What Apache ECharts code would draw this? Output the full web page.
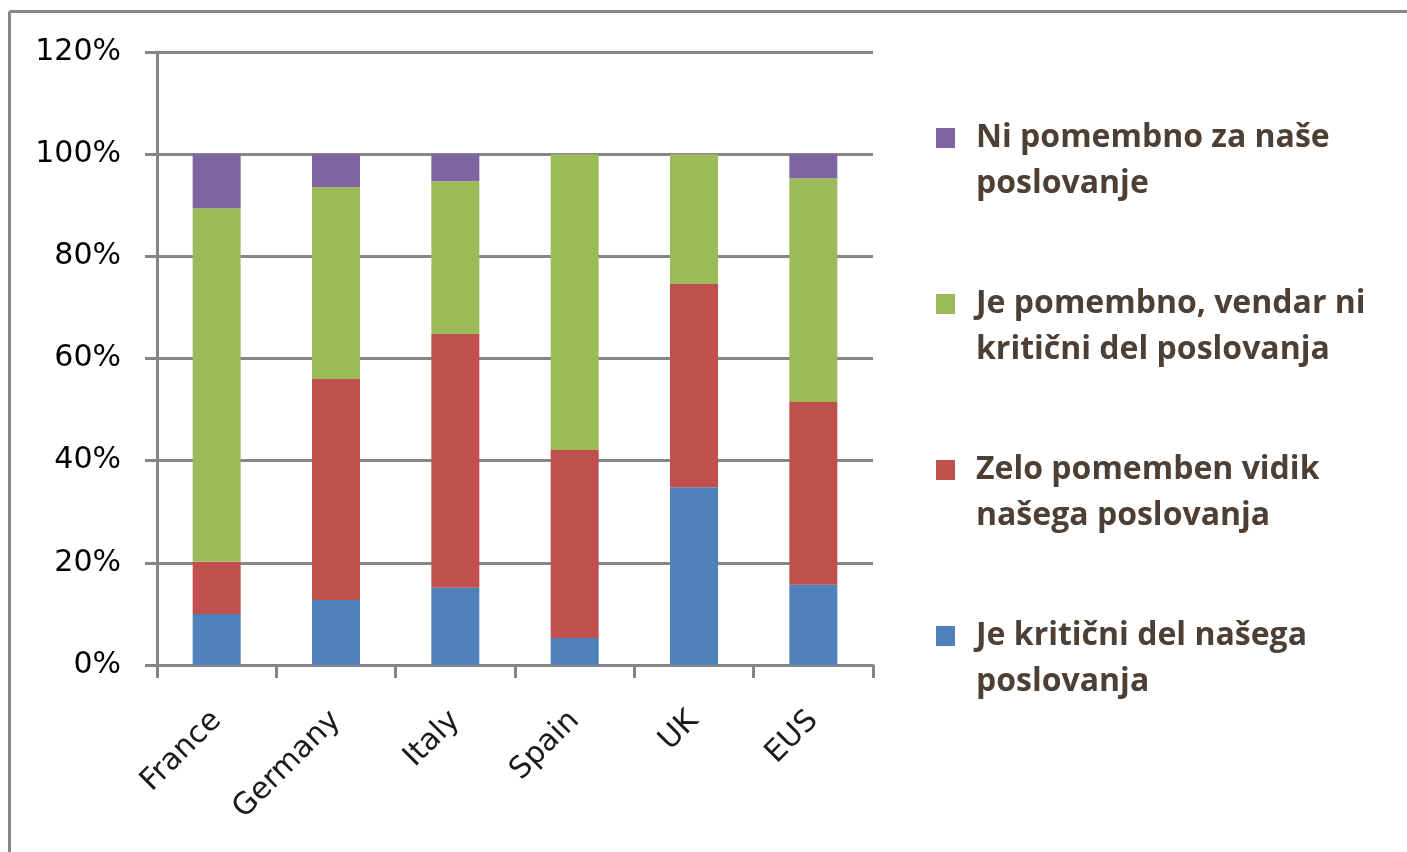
<!DOCTYPE html>
<html>
<head>
<meta charset="utf-8">
<script src="https://cdn.jsdelivr.net/npm/echarts@6/dist/echarts.min.js"></script>
<style>
  html, body { margin: 0; padding: 0; background: #fff; }
  #main { width: 1407px; height: 852px; }
</style>
</head>
<body>
<div id="main"></div>
<script>
// data
const countries = ['France', 'Germany', 'Italy', 'Spain', 'UK', 'EUS'];
const seriesNames = [
  'Je kritični del našega\nposlovanja',
  'Zelo pomemben vidik\nnašega poslovanja',
  'Je pomembno, vendar ni\nkritični del poslovanja',
  'Ni pomembno za naše\nposlovanje'
];
const critical    = [10.0, 12.7, 15.1, 5.3, 34.8, 15.7];
const veryImport  = [10.2, 43.3, 49.7, 36.8, 39.8, 35.8];
const important   = [69.2, 37.5, 29.9, 57.9, 25.4, 43.8];
const notImport   = [10.6, 6.5, 5.3, 0, 0, 4.7];
const colors = ['#4f81bd', '#c0504d', '#9bbb59', '#8064a2'];

const gray = '#868686';
const lineH = 46;

var myChart = echarts.init(document.getElementById('main'));
const values = [critical, veryImport, important, notImport];
var option = {
  animation: false,
  color: colors,
  grid: { left: 157, right: 534, top: 52, bottom: 187 },
  graphic: [
    { type: 'line', shape: { x1: 9.5, y1: 11.5, x2: 1407, y2: 11.5 }, style: { stroke: gray, lineWidth: 3 } },
    { type: 'line', shape: { x1: 9.5, y1: 11.5, x2: 9.5, y2: 852 }, style: { stroke: gray, lineWidth: 3 } }
  ],
  legend: {
    orient: 'vertical',
    left: 936,
    top: 69,
    padding: 0,
    itemWidth: 19,
    itemHeight: 20,
    itemGap: 28,
    icon: 'rect',
    data: seriesNames.slice().reverse(),
    // blank first line so the square sits beside the first text line
    formatter: name => ' \n' + name,
    textStyle: {
      fontFamily: 'Open Sans',
      fontWeight: 'bold',
      fontSize: 32,
      color: '#4d3f33',
      lineHeight: lineH,
      padding: [0, 0, 0, 16]
    }
  },
  xAxis: {
    type: 'category',
    data: countries,
    axisLine: { lineStyle: { color: gray, width: 3 } },
    axisTick: { show: true, length: 13, lineStyle: { color: gray, width: 3 } },
    axisLabel: {
      rotate: 45,
      margin: 51,
      fontFamily: 'DejaVu Sans',
      fontSize: 30,
      color: '#1a1a1a'
    }
  },
  yAxis: {
    type: 'value',
    min: 0,
    max: 120,
    interval: 20,
    axisLine: { show: true, lineStyle: { color: gray, width: 3 } },
    axisTick: { show: true, length: 12, lineStyle: { color: gray, width: 3 } },
    splitLine: { lineStyle: { color: gray, width: 3 } },
    axisLabel: {
      formatter: '{value}%',
      margin: 36,
      fontFamily: 'DejaVu Sans',
      fontSize: 30,
      color: '#000'
    }
  },
  series: seriesNames.map((name, i) => ({
    name: name,
    type: 'bar',
    stack: 'total',
    barWidth: 48,
    data: values[i]
  }))
};
myChart.setOption(option);
</script>
</body>
</html>
